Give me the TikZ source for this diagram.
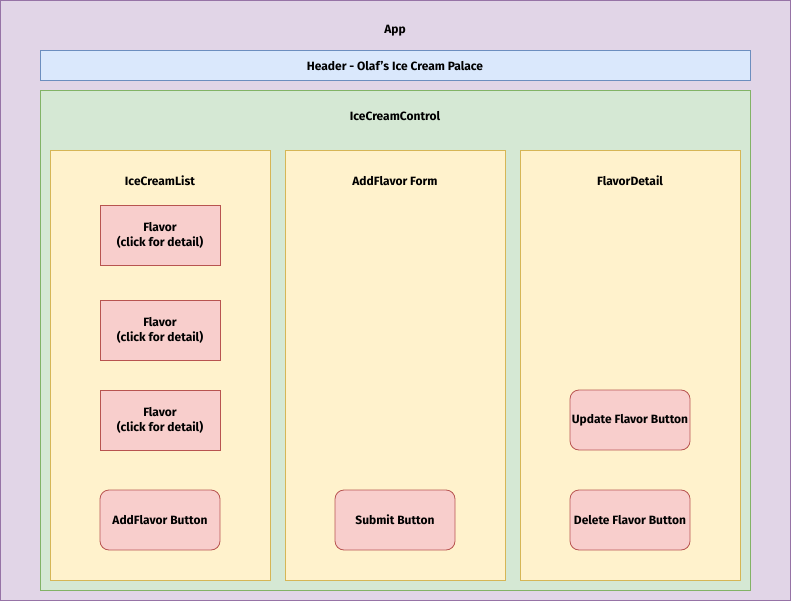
\documentclass[tikz,border=0pt]{standalone}
\usepackage{fontspec}
\setmainfont{Fira Sans}
\usepackage{tikz}

\definecolor{appfill}{HTML}{E1D5E7}
\definecolor{appline}{HTML}{9673A6}
\definecolor{headfill}{HTML}{DAE8FC}
\definecolor{headline}{HTML}{6C8EBF}
\definecolor{ctrlfill}{HTML}{D5E8D4}
\definecolor{ctrlline}{HTML}{82B366}
\definecolor{panelfill}{HTML}{FFF2CC}
\definecolor{panelline}{HTML}{D6B656}
\definecolor{itemfill}{HTML}{F8CECC}
\definecolor{itemline}{HTML}{B85450}

\tikzset{
    label text/.style={font=\bfseries\fontsize{12}{14}\selectfont,align=center},
    flavor box/.style={draw=itemline,fill=itemfill,line width=0.8pt,minimum width=120pt,minimum height=60pt,inner sep=1pt,label text},
    button box/.style={flavor box,rounded corners=9pt},
}

\begin{document}
\begin{tikzpicture}[x=1pt,y=-1pt,line width=0.8pt]
            \useasboundingbox(0,0)rectangle(791,601);
            % Containers
            \draw[appline,fill=appfill](0.5,0.5)rectangle(790,600);
            \draw[headline,fill=headfill](40,50)rectangle(750,80);
            \draw[ctrlline,fill=ctrlfill](40,90)rectangle(750,590);
            \draw[panelline,fill=panelfill](50,150)rectangle(270,580);
            \draw[panelline,fill=panelfill](285,150)rectangle(505,580);
            \draw[panelline,fill=panelfill](520,150)rectangle(740,580);
            % Titles
            \node[label text](app)at(395,31){App};
            \node[label text](header)at(395,66){Header - Olaf's Ice Cream Palace};
            \node[label text](control)at(395,116){IceCreamControl};
            \node[label text](list)at(160,181){IceCreamList};
            \node[label text](form)at(395,181){AddFlavor Form};
            \node[label text](detail)at(630,181){FlavorDetail};
            % Flavors
            \node[flavor box](flavorA)at(160,235){\strut Flavor\\(click for detail)};
            \node[flavor box](flavorB)at(160,330){\strut Flavor\\(click for detail)};
            \node[flavor box](flavorC)at(160,420){\strut Flavor\\(click for detail)};
            % Buttons
            \node[button box](addbtn)at(160,520){AddFlavor Button};
            \node[button box](submitbtn)at(395,520){Submit Button};
            \node[button box](updatebtn)at(630,420){Update Flavor Button};
            \node[button box](deletebtn)at(630,520){Delete Flavor Button};
        \end{tikzpicture}
\end{document}
